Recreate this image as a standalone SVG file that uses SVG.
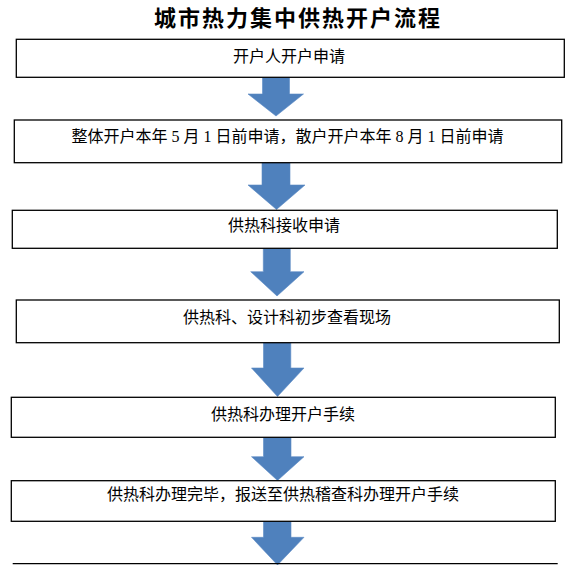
<svg xmlns="http://www.w3.org/2000/svg" width="580" height="565" viewBox="0 0 580 565">
  <style>
    .box { fill: #ffffff; stroke: #000000; stroke-width: 1.3; }
    .lbl { font-family: "Noto Sans CJK SC", "Noto Sans", sans-serif; font-size: 16px; fill: #000000; text-anchor: middle; }
    .num { font-family: "Liberation Serif", serif; }
    .title { font-family: "Noto Sans CJK SC", sans-serif; font-size: 22px; font-weight: bold; letter-spacing: 2px; fill: #000000; text-anchor: middle; }
    .arrow { fill: #4F81BD; stroke: #5A8AC4; stroke-width: 0.6; }
  </style>
  <rect width="580" height="565" fill="#ffffff"/>
  <text id="title" class="title" x="298" y="26">城市热力集中供热开户流程</text>

  <g id="connectors">
    <polygon class="arrow" points="262.5,77.3 289.5,77.3 289.5,94 303.5,94 276,116 248,94 262.5,94"/>
    <polygon class="arrow" points="262,162.7 290,162.7 290,185 305,185 276.5,209.5 248,185 262,185"/>
    <polygon class="arrow" points="263.3,248.3 290.3,248.3 290.3,271.7 304,271.7 277,296 250.7,271.7 263.3,271.7"/>
    <polygon class="arrow" points="263.5,342.7 290.8,342.7 290.8,368 304,368 277.5,396.5 251.5,368 263.5,368"/>
    <polygon class="arrow" points="263.5,437.3 291,437.3 291,456.7 304,456.7 277.5,480.5 251.5,456.7 263.5,456.7"/>
    <polygon class="arrow" points="263.5,521.3 291,521.3 291,537.3 304,537.3 277.5,565 251.5,537.3 263.5,537.3"/>
  </g>

  <g id="node1">
    <rect class="box" x="16.3" y="39.3" width="548" height="38"/>
    <text class="lbl" x="289" y="62">开户人开户申请</text>
  </g>
  <g id="node2">
    <rect class="box" x="14.3" y="120" width="547.4" height="42.7"/>
    <text class="lbl" x="287.5" y="142">整体开户本年<tspan class="num"> 5 </tspan>月<tspan class="num"> 1 </tspan>日前申请，散户开户本年<tspan class="num"> 8 </tspan>月<tspan class="num"> 1 </tspan>日前申请</text>
  </g>
  <g id="node3">
    <rect class="box" x="12.3" y="210.3" width="545" height="38"/>
    <text class="lbl" x="284" y="231">供热科接收申请</text>
  </g>
  <g id="node4">
    <rect class="box" x="16.3" y="300" width="543" height="42.7"/>
    <text class="lbl" x="287" y="323">供热科、设计科初步查看现场</text>
  </g>
  <g id="node5">
    <rect class="box" x="11.3" y="397.3" width="544" height="40"/>
    <text class="lbl" x="283" y="420">供热科办理开户手续</text>
  </g>
  <g id="node6">
    <rect class="box" x="11.3" y="480.7" width="544" height="40.6"/>
    <text class="lbl" x="283" y="500">供热科办理完毕，报送至供热稽查科办理开户手续</text>
  </g>
  <g id="node7">
    <line x1="12.7" y1="563.7" x2="557.7" y2="563.7" stroke="#000000" stroke-width="1.3"/>
  </g>
</svg>
